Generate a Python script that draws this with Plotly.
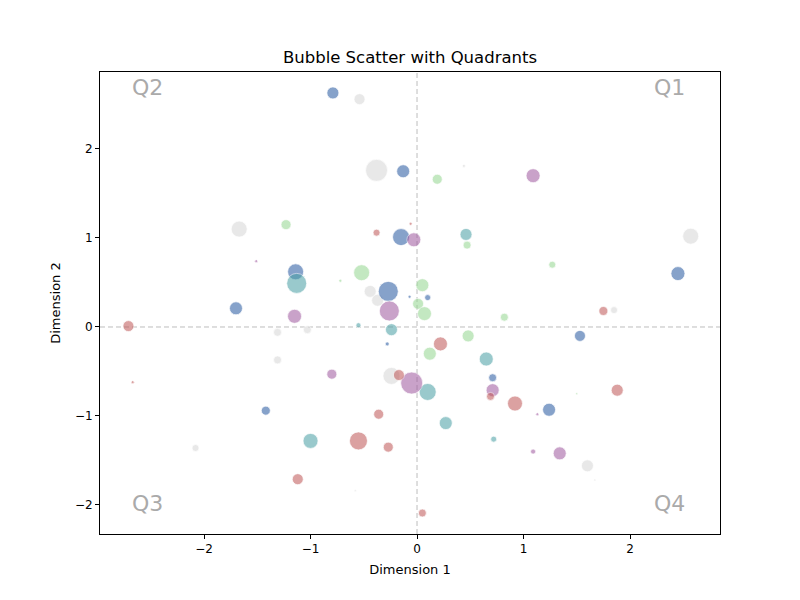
import plotly.graph_objects as go

# Data per group: x, y, bubble size (diameter px)
blue_x = [-0.79, -0.13, -0.15, -1.14, -0.27, -1.70, 0.10, -0.28, 2.45, 1.53, 0.71, 1.24, -1.42, -0.07]
blue_y = [2.63, 1.75, 1.01, 0.62, 0.40, 0.21, 0.33, -0.19, 0.60, -0.10, -0.57, -0.93, -0.94, 0.34]
blue_s = [12, 13, 17, 16, 20, 13, 6, 4, 14, 11, 8, 13, 9, 3]

grey_x = [-0.54, -0.38, -1.67, 2.57, -0.44, -0.37, -1.31, -1.03, -1.31, -0.24, 1.85, 1.60, -2.08, 0.44, -0.58, 1.67]
grey_y = [2.56, 1.76, 1.10, 1.02, 0.40, 0.30, -0.06, -0.03, -0.37, -0.55, 0.19, -1.56, -1.36, 1.81, -1.84, -1.72]
grey_s = [11, 22, 16, 16, 12, 12, 8, 8, 8, 17, 7, 12, 7, 3, 2, 2]

green_x = [0.19, -1.23, 0.47, 1.27, -0.52, 0.05, 0.01, 0.07, 0.82, 0.48, 0.12, -0.72, 1.50]
green_y = [1.66, 1.15, 0.92, 0.70, 0.61, 0.47, 0.26, 0.15, 0.11, -0.10, -0.30, 0.52, -0.75]
green_s = [10, 10, 8, 7, 16, 13, 11, 14, 8, 12, 13, 3, 2]

teal_x = [0.46, -1.13, -0.24, 0.65, 0.10, 0.27, -1.00, 0.72, -0.55]
teal_y = [1.04, 0.49, -0.03, -0.36, -0.73, -1.08, -1.28, -1.26, 0.02]
teal_s = [12, 20, 12, 14, 17, 13, 15, 6, 5]

purple_x = [1.09, -0.03, -1.15, -0.26, -0.80, -0.05, 0.71, 1.34, 1.09, 1.13, -1.51]
purple_y = [1.70, 0.98, 0.12, 0.18, -0.53, -0.63, -0.71, -1.42, -1.40, -0.98, 0.74]
purple_s = [14, 14, 14, 20, 10, 22, 13, 13, 5, 3, 3]

red_x = [-0.38, -0.06, -2.71, -2.67, 1.75, 0.22, -0.17, 0.92, 1.88, -0.36, -0.55, -0.27, -1.12, 0.05, 0.69]
red_y = [1.06, 1.16, 0.01, -0.62, 0.18, -0.19, -0.54, -0.86, -0.71, -0.98, -1.28, -1.35, -1.71, -2.09, -0.78]
red_s = [7, 3, 11, 3, 9, 14, 11, 15, 12, 10, 18, 10, 11, 8, 8]

quad_labels = ["Q1", "Q2", "Q3", "Q4"]

groups = [
    (grey_x, grey_y, grey_s, "rgba(215,215,215,0.8)"),
    (green_x, green_y, green_s, "rgba(150,215,145,0.8)"),
    (blue_x, blue_y, blue_s, "rgba(60,105,170,0.88)"),
    (teal_x, teal_y, teal_s, "rgba(75,160,165,0.8)"),
    (purple_x, purple_y, purple_s, "rgba(160,90,160,0.8)"),
    (red_x, red_y, red_s, "rgba(190,85,85,0.78)"),
]

fig = go.Figure()
for gx, gy, gs, col in groups:
    fig.add_trace(go.Scatter(
        x=gx, y=gy, mode="markers",
        marker=dict(size=gs, color=col, line=dict(color="white", width=0.7)),
        showlegend=False, hoverinfo="skip"))

fig.add_shape(type="line", xref="x", yref="paper", x0=0, x1=0, y0=0, y1=1,
              line=dict(color="#bdbdbd", width=1, dash="5px,3px"), layer="below")
fig.add_shape(type="line", xref="paper", yref="y", x0=0, x1=1, y0=0, y1=0,
              line=dict(color="#bdbdbd", width=1, dash="5px,3px"), layer="below")

pos = {"Q1": (0.919, 0.9675), "Q2": (0.077, 0.9675), "Q3": (0.077, 0.067), "Q4": (0.919, 0.067)}
for q in quad_labels:
    px_, py_ = pos[q]
    fig.add_annotation(text=q, x=px_, y=py_, xref="paper", yref="paper", showarrow=False,
                       xanchor="center", yanchor="middle",
                       font=dict(size=22, color="#aaaaaa", family="DejaVu Sans"))

axis_common = dict(showgrid=False, zeroline=False, showline=True, linecolor="black", linewidth=1,
                   mirror=True, ticks="outside", ticklen=4, tickcolor="black",
                   tickfont=dict(size=12, color="black", family="DejaVu Sans"))
fig.update_layout(
    width=800, height=600,
    margin=dict(l=100, r=80, t=72, b=66),
    plot_bgcolor="white", paper_bgcolor="white",
    title=dict(text="Bubble Scatter with Quadrants", x=0.5125, xanchor="center", y=0.905, yanchor="middle",
               font=dict(size=16.5, color="black", family="DejaVu Sans")),
    xaxis=dict(range=[-2.977, 2.845], tickvals=[-2, -1, 0, 1, 2], ticktext=["\u22122", "\u22121", "0", "1", "2"],
               title=dict(text="Dimension 1", font=dict(size=13, color="black", family="DejaVu Sans"), standoff=9),
               **axis_common),
    yaxis=dict(range=[-2.326, 2.865], tickvals=[-2, -1, 0, 1, 2], ticktext=["\u22122", "\u22121", "0", "1", "2"],
               title=dict(text="Dimension 2", font=dict(size=13, color="black", family="DejaVu Sans"), standoff=11),
               **axis_common),
)

fig.write_html("out.html")
